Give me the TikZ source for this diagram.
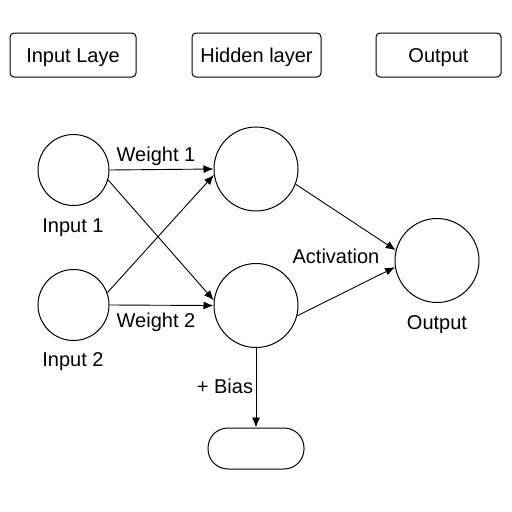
\documentclass[tikz,border=0pt]{standalone}
\usepackage{fontspec}
\setmainfont{Liberation Sans}
\usetikzlibrary{arrows.meta}
\begin{document}
\begin{tikzpicture}[x=1pt,y=-1pt,
  every node/.style={font=\fontsize{20}{23}\selectfont},
  layerbox/.style={draw,line width=1pt,rounded corners=4pt,minimum height=44pt,inner sep=0pt,text height=14pt,text depth=0pt},
  smallneuron/.style={draw,circle,line width=1pt,minimum size=71pt,inner sep=0pt},
  neuron/.style={draw,circle,line width=1pt,minimum size=84pt,inner sep=0pt},
  pillbox/.style={draw,line width=1pt,rounded corners=20pt,minimum width=96pt,minimum height=41pt,inner sep=0pt},
  conn/.style={line width=0.9pt,-{Latex[length=10pt,width=8pt]}},
  lbl/.style={inner sep=0pt,anchor=base}]
\useasboundingbox (0,0) rectangle (512,512);
\fill[white] (0,0) rectangle (512,512);
% top boxes
\node[layerbox,minimum width=126pt] (b1) at (73,55) {Input Laye};
\node[layerbox,minimum width=129pt] (b2) at (256.5,55) {Hidden layer};
\node[layerbox,minimum width=125pt] (b3) at (438.5,55) {Output};
% neurons
\node[smallneuron] (i1) at (73.5,170) {};
\node[smallneuron] (i2) at (73.5,305) {};
\node[neuron] (h1) at (256,169) {};
\node[neuron] (h2) at (256,305.5) {};
\node[neuron] (out) at (437,260.5) {};
\node[pillbox] (pill) at (256,448.5) {};
% labels (positioned by baseline)
\node[lbl] (li1) at (73,232) {Input 1};
\node[lbl] (li2) at (73,366) {Input 2};
\node[lbl] (lw1) at (156,161) {Weight 1};
\node[lbl] (lw2) at (156,327) {Weight 2};
\node[lbl] (lact) at (336,263) {Activation};
\node[lbl] (lout) at (437,329) {Output};
\node[lbl] (lbias) at (225,393) {+ Bias};
% connectors
\draw[conn] (i1.0) -- (h1.180);
\draw[conn] (i1.-16) -- (h2.173);
\draw[conn] (i2.20) -- (h1.-172);
\draw[conn] (i2.0) -- (h2.180);
\draw[conn] (h1.-21) -- (out.166);
\draw[conn] (h2.-14) -- (out.-171);
\draw[conn] (h2.south) -- (pill.north);
\end{tikzpicture}
\end{document}
